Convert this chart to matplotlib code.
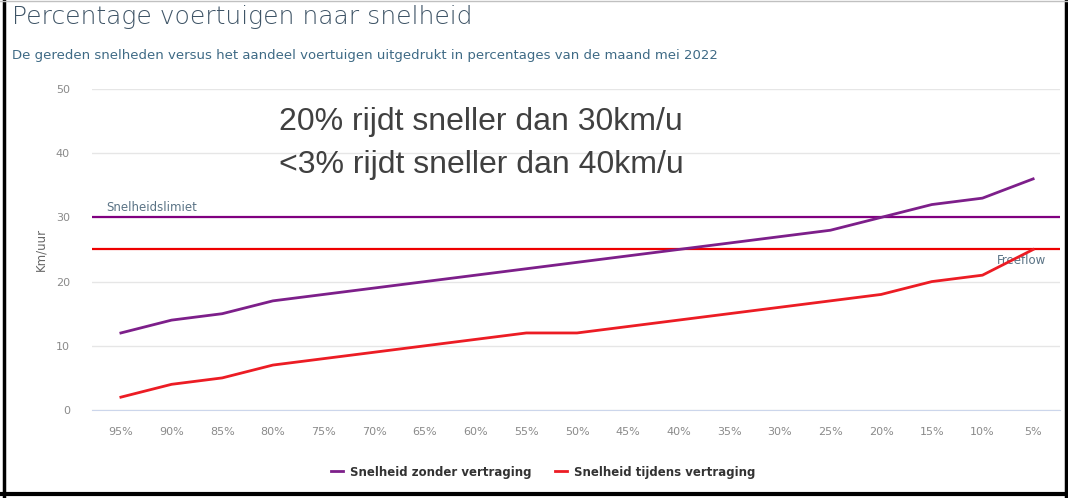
import matplotlib.pyplot as plt
from matplotlib.lines import Line2D

# Data
categories = ["95%", "90%", "85%", "80%", "75%", "70%", "65%", "60%", "55%", "50%",
              "45%", "40%", "35%", "30%", "25%", "20%", "15%", "10%", "5%"]
zonder_vertraging = [12, 14, 15, 17, 18, 19, 20, 21, 22, 23, 24, 25, 26, 27, 28, 30, 32, 33, 36]
tijdens_vertraging = [2, 4, 5, 7, 8, 9, 10, 11, 12, 12, 13, 14, 15, 16, 17, 18, 20, 21, 25]
snelheidslimiet = 30
freeflow = 25
y_ticks = [0, 10, 20, 30, 40, 50]

W, H = 1068, 498
fig = plt.figure(figsize=(W / 100, H / 100), dpi=100)
ax = fig.add_axes([92 / W, 1 - 410 / H, (1060 - 92) / W, (410 - 89) / H])

x = list(range(len(categories)))
purple = "#7d1f8a"
red = "#ec1c24"

ax.axhline(snelheidslimiet, color="#800080", lw=1.6, zorder=3)
ax.axhline(freeflow, color="#ee0000", lw=1.6, zorder=3)
ax.plot(x, zonder_vertraging, color=purple, lw=2, zorder=4, label="Snelheid zonder vertraging")
ax.plot(x, tijdens_vertraging, color=red, lw=2, zorder=4, label="Snelheid tijdens vertraging")

ax.set_xlim(-0.57, len(categories) - 1 + 0.53)
ax.set_ylim(0, 50)
ax.set_yticks(y_ticks)
ax.set_xticks(x)
ax.set_xticklabels(categories)
ax.grid(axis="y", color="#e6e6e6", lw=1)
ax.set_axisbelow(True)
for s in ["top", "right", "left"]:
    ax.spines[s].set_visible(False)
ax.spines["bottom"].set_color("#ccd6eb")
ax.tick_params(axis="both", length=0, labelsize=8, labelcolor="#8a8a8a")
ax.tick_params(axis="x", pad=12)
ax.tick_params(axis="y", pad=16)
ax.set_ylabel("Km/uur", fontsize=8.5, color="#666666", labelpad=6)

ax.text(-0.28, snelheidslimiet + 0.6, "Snelheidslimiet",
        fontsize=8.5, color="#5a7385", va="bottom", ha="left")
ax.text(18.26, 23.3, "Freeflow", fontsize=8.5, color="#5a7385",
        va="center", ha="right", zorder=2)

fig.text(279 / W, 1 - 122 / H, "20% rijdt sneller dan 30km/u", fontsize=23,
         family="Liberation Sans", color="#404040", va="center", ha="left")
fig.text(279 / W, 1 - 165 / H, "<3% rijdt sneller dan 40km/u", fontsize=23,
         family="Liberation Sans", color="#404040", va="center", ha="left")

fig.text(12 / W, 1 - 17 / H, "Percentage voertuigen naar snelheid", fontsize=18,
         fontweight="light", color="#3e5466", va="center", ha="left")
fig.text(12 / W, 1 - 55 / H,
         "De gereden snelheden versus het aandeel voertuigen uitgedrukt in percentages van de maand mei 2022",
         fontsize=9.5, color="#3e6a85", va="center", ha="left")

leg = fig.legend(loc="center", bbox_to_anchor=(543 / W, 1 - 472 / H), ncol=2, frameon=False,
                 fontsize=8.5, handlelength=1.0, columnspacing=2.0, handletextpad=0.6)
for t in leg.get_texts():
    t.set_fontweight("bold")
    t.set_color("#333333")

# frame around screenshot
fig.add_artist(Line2D([4 / W, 4 / W], [0, 1], color="black", lw=2.5, transform=fig.transFigure))
fig.add_artist(Line2D([1066 / W, 1066 / W], [0, 1], color="black", lw=2.5, transform=fig.transFigure))
fig.add_artist(Line2D([0, 1], [1 - 494 / H, 1 - 494 / H], color="black", lw=3, transform=fig.transFigure))
fig.add_artist(Line2D([0, 1], [1 - 1 / H, 1 - 1 / H], color="#c0c0c0", lw=1, transform=fig.transFigure))

fig.savefig("out.png", dpi=100)
